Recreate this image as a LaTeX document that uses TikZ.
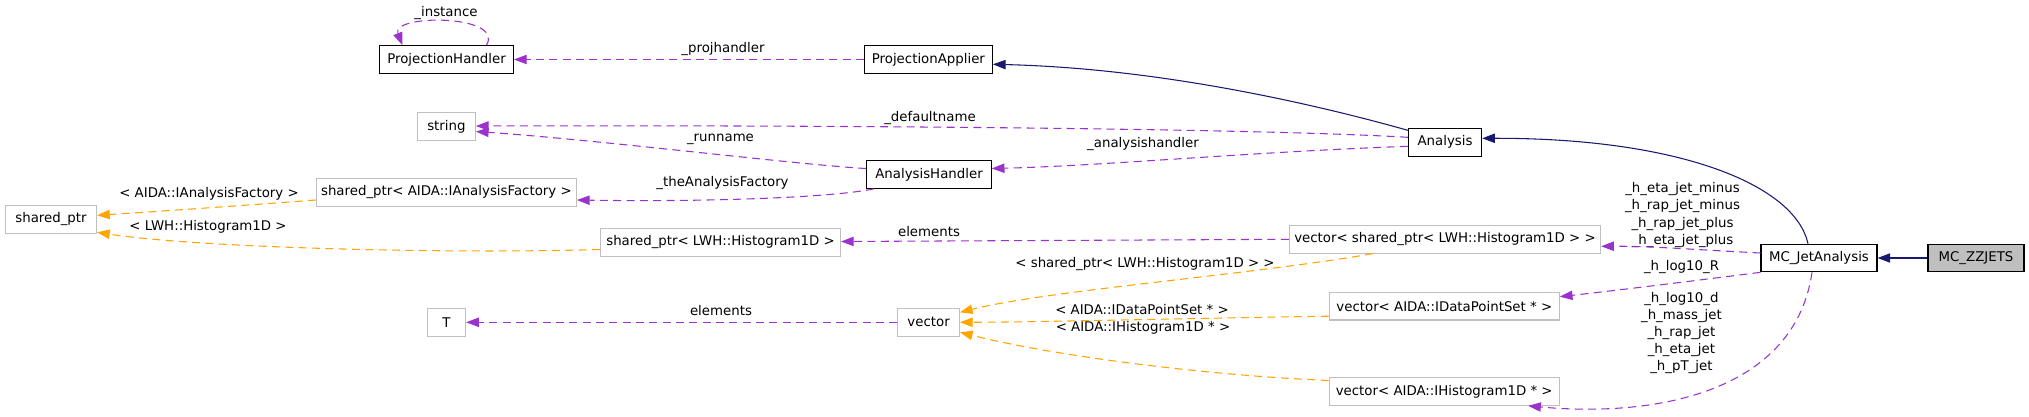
\documentclass[tikz,border=0pt]{standalone}
\usepackage{fontspec}
\setmainfont{DejaVu Sans}
\usepackage{tikz}
\usepackage{xcolor}
\usetikzlibrary{arrows.meta, calc}

\definecolor{navy}{HTML}{191970}
\definecolor{orchid}{HTML}{9A32CD}
\definecolor{amber}{HTML}{FFA500}
\definecolor{grey75}{HTML}{BFBFBF}

\begin{document}
\begin{tikzpicture}[x=0.75pt, y=-0.75pt,
    cls/.style={draw=black, line width=0.8pt, minimum height=20.7pt, inner sep=1pt, font=\fontsize{10}{12}\selectfont},
    ext/.style={cls, draw=grey75},
    lbl/.style={inner sep=0pt, align=center, font=\fontsize{10}{12.8}\selectfont},
    inh/.style={draw=navy, line width=0.8pt, -{Triangle[length=9.5pt,width=7pt]}},
    use/.style={draw=orchid, line width=0.8pt, dash pattern=on 6pt off 4pt, -{Triangle[length=9.5pt,width=7pt]}},
    tmpl/.style={use, draw=amber}]
                        \useasboundingbox (0,0) rectangle (2029,417);
                        % classes
                        \node[cls, minimum width=100.5pt] (ph) at (446.5, 59.5) {ProjectionHandler};
                        \node[cls, minimum width=96pt] (pa) at (928.4, 59.5) {ProjectionApplier};
                        \node[ext, minimum width=43.5pt] (str) at (446.4, 126.5) {string};
                        \node[cls, minimum width=55pt] (ana) at (1445, 142.3) {Analysis};
                        \node[cls, minimum width=93.4pt] (ah) at (929, 174.5) {AnalysisHandler};
                        \node[ext, minimum width=195pt] (spaf) at (446.4, 192.5) {shared\_ptr< AIDA::IAnalysisFactory >};
                        \node[ext, minimum width=68.3pt] (sp) at (51, 219.3) {shared\_ptr};
                        \node[ext, minimum width=180pt] (splwh) at (720.5, 242.5) {shared\_ptr< LWH::Histogram1D >};
                        \node[ext, minimum width=233.5pt] (vsp) at (1445, 239.3) {vector< shared\_ptr< LWH::Histogram1D > >};
                        \node[ext, minimum width=28.8pt] (t) at (446.4, 322.3) {T};
                        \node[ext, minimum width=46.2pt] (vec) at (928.6, 322.3) {vector};
                        \node[ext, minimum width=172.5pt] (vdps) at (1444.3, 306.2) {vector< AIDA::IDataPointSet * >};
                        \node[ext, minimum width=172.5pt] (vh1d) at (1444.2, 391.5) {vector< AIDA::IHistogram1D * >};
                        \node[cls, minimum width=87pt] (mcj) at (1819, 258) {MC\_JetAnalysis};
                        \node[cls, minimum width=72pt, fill=grey75] (zz) at (1976, 258) {MC\_ZZJETS};
                        % labels
                        \node[lbl] (linst) at (446, 12.7) {\_instance};
                        \node[lbl] (lproj) at (723, 49.3) {\_projhandler};
                        \node[lbl] (ldef) at (930, 117.7) {\_defaultname};
                        \node[lbl] (lrun) at (720.5, 139) {\_runname};
                        \node[lbl] (lah) at (1143, 144) {\_analysishandler};
                        \node[lbl] (lfac) at (722.5, 183.3) {\_theAnalysisFactory};
                        \node[lbl] (liaf) at (209, 194.3) {< AIDA::IAnalysisFactory >};
                        \node[lbl] (llwh) at (208, 226.7) {< LWH::Histogram1D >};
                        \node[lbl] (lel1) at (929, 231.7) {elements};
                        \node[lbl] (lel2) at (721, 310.7) {elements};
                        \node[lbl] (lvsp) at (1145, 264.3) {< shared\_ptr< LWH::Histogram1D > >};
                        \node[lbl] (ldps) at (1142, 309.3) {< AIDA::IDataPointSet * >};
                        \node[lbl] (lh1d) at (1143, 328.3) {< AIDA::IHistogram1D * >};
                        \node[lbl] (lpm) at (1682.5, 215) {\_h\_eta\_jet\_minus\\\_h\_rap\_jet\_minus\\\_h\_rap\_jet\_plus\\\_h\_eta\_jet\_plus};
                        \node[lbl] (lr) at (1681.5, 266.7) {\_h\_log10\_R};
                        \node[lbl] (ljet) at (1681.4, 333.3) {\_h\_log10\_d\\\_h\_mass\_jet\\\_h\_rap\_jet\\\_h\_eta\_jet\\\_h\_pT\_jet};
                        % inheritance
                        \draw[inh] (zz) -- (mcj);
                        \draw[inh] ($(mcj.north)+(-11,0)$) .. controls (1795,185) and (1680,138) .. ($(ana.east)+(0,-4)$);
                        \draw[inh] ($(ana.west)+(0,-12)$) .. controls (1300,100) and (1150,68) .. ($(pa.east)+(0,4.8)$);
                        % usage
                        \draw[use] (pa) -- (ph);
                        \draw[use] ($(ph.north)+(40,0)$) .. controls (505,14) and (390,14) .. ($(ph.north)+(-44,0)$);
                        \draw[use] ($(ana.west)+(0,-5)$) .. controls (1250,128) and (800,125) .. ($(str.east)+(0,-0.5)$);
                        \draw[use] ($(ana.west)+(0,4)$) .. controls (1250,152) and (1100,166) .. ($(ah.east)+(0,-6)$);
                        \draw[use] ($(ah.west)+(0,-6)$) .. controls (800,165) and (600,140) .. ($(str.east)+(0,5)$);
                        \draw[use] ($(ah.south)+(-55,0)$) .. controls (830,198) and (700,202) .. ($(spaf.east)+(0,7.5)$);
                        \draw[use] (vsp.west) -- ($(splwh.east)+(0,-1)$);
                        \draw[use] (vec) -- (t);
                        \draw[use] ($(mcj.west)+(0,-5)$) .. controls (1700,250) and (1650,246) .. ($(vsp.east)+(0,7)$);
                        \draw[use] (mcj.south west) .. controls (1700,280) and (1620,290) .. ($(vdps.east)+(0,-9.5)$);
                        \draw[use] ($(mcj.south)+(-7,0)$) .. controls (1795,390) and (1660,418) .. ($(vh1d.south)+(84,0)$);
                        % templates
                        \draw[tmpl] ($(spaf.west)+(0,7.5)$) .. controls (250,205) and (150,212) .. ($(sp.east)+(0,-4)$);
                        \draw[tmpl] ($(splwh.west)+(0,7)$) .. controls (450,254) and (200,248) .. ($(sp.east)+(0,13)$);
                        \draw[tmpl] ($(vsp.south)+(-72,0)$) .. controls (1250,275) and (1050,290) .. ($(vec.east)+(0,-10)$);
                        \draw[tmpl] ($(vdps.west)+(0,10)$) .. controls (1200,318) and (1050,322) .. (vec.east);
                        \draw[tmpl] ($(vh1d.west)+(0,-11)$) .. controls (1200,375) and (1050,355) .. ($(vec.east)+(0,10)$);
                    \end{tikzpicture}
\end{document}
